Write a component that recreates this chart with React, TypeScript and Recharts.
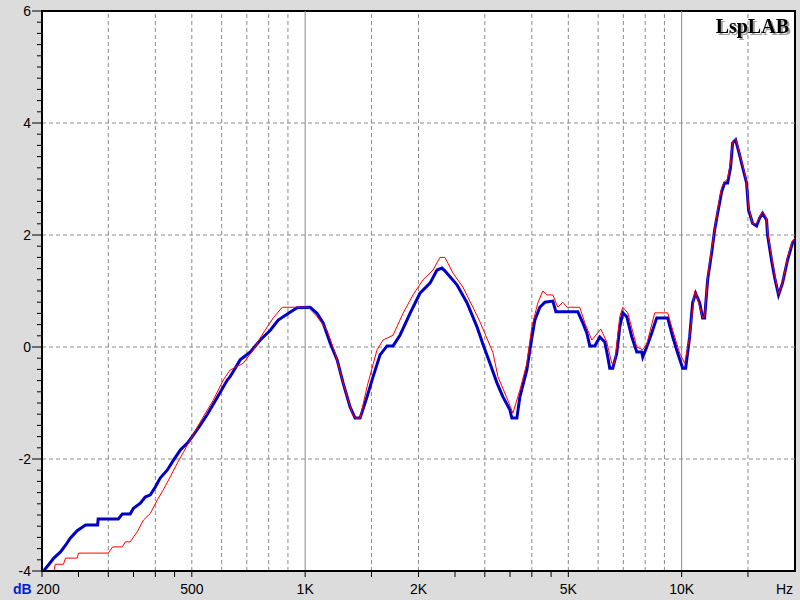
import { LineChart, Line, XAxis, YAxis, ReferenceLine, ReferenceArea, CartesianGrid } from "recharts";

// frequency response, blue (thick) trace
const blueFreq = [
  202, 211, 215, 224, 231, 238, 248, 261, 281, 282, 319, 327, 343, 350, 365, 376, 388, 400, 412, 430,
  447, 466, 489, 505, 527, 550, 584, 621, 632, 672, 715, 760, 808, 848, 901, 952, 1031, 1076, 1116, 1165,
  1216, 1261, 1316, 1357, 1399, 1460, 1515, 1581, 1650, 1712, 1786, 1899, 2018, 2146, 2240, 2308, 2350, 2530,
  2690, 2860, 2966, 3096, 3231, 3352, 3497, 3540, 3650, 3718, 3880, 3952, 4074, 4201, 4333, 4549, 4633, 5298,
  5463, 5598, 5702, 5879, 6061, 6249, 6364, 6442, 6561, 6724, 6849, 6975, 7148, 7370, 7599, 7834, 7882, 8077,
  8328, 8585, 9181, 9466, 9759, 10062, 10247, 10500, 10694, 10892, 11162, 11368, 11508, 11721, 12011, 12234,
  12460, 12768, 13002, 13243, 13488, 13654, 13907, 14251, 14514, 14872, 15054, 15426, 15810, 16102, 16399,
  16806, 16910, 17328, 17646, 18083, 18530, 19104, 19698, 20000,
];
const blueDb = [
  -4.0, -3.84, -3.77, -3.66, -3.54, -3.41, -3.28, -3.18, -3.18, -3.07, -3.07, -2.98, -2.98, -2.88, -2.79, -2.68, -2.64, -2.5, -2.34, -2.2,
  -2.02, -1.84, -1.7, -1.57, -1.39, -1.2, -0.9, -0.59, -0.53, -0.23, -0.09, 0.125, 0.3, 0.48, 0.6, 0.7, 0.71, 0.6, 0.43, 0.07,
  -0.23, -0.64, -1.07, -1.27, -1.27, -0.89, -0.53, -0.14, 0.02, 0.02, 0.21, 0.6, 0.96, 1.14, 1.375, 1.41, 1.36, 1.11,
  0.79, 0.36, 0.05, -0.29, -0.64, -0.89, -1.12, -1.27, -1.27, -0.89, -0.41, -0.05, 0.48, 0.71, 0.8, 0.82, 0.63, 0.63,
  0.43, 0.25, 0.02, 0.02, 0.18, 0.09, -0.18, -0.38, -0.38, -0.11, 0.36, 0.61, 0.54, 0.18, -0.09, -0.09, -0.18, 0,
  0.25, 0.52, 0.52, 0.18, -0.11, -0.38, -0.38, 0.18, 0.79, 0.96, 0.79, 0.52, 0.52, 1.2, 1.68, 2.09,
  2.39, 2.77, 2.93, 2.93, 3.21, 3.64, 3.7, 3.43, 3.21, 2.93, 2.45, 2.21, 2.16, 2.3, 2.39,
  2.27, 2.0, 1.55, 1.25, 0.93, 1.14, 1.55, 1.86, 1.9,
];

// red (thin) trace
const redFreq = [
  215, 217, 228, 231, 248, 250, 300, 308, 327, 333, 343, 358, 372, 388, 405, 420, 438, 458, 475, 495,
  517, 536, 570, 606, 632, 685, 728, 774, 823, 869, 1019, 1076, 1143, 1201, 1261, 1333, 1357, 1399, 1460, 1552,
  1610, 1712, 1819, 1934, 2056, 2186, 2281, 2351, 2470, 2624, 2790, 2912, 3153, 3251, 3434, 3562, 3718, 3880,
  4000, 4150, 4278, 4384, 4549, 4688, 4834, 4954, 5363, 5530, 5772, 6098, 6325, 6520, 6640, 6849, 6975, 7192,
  7599, 7882, 8077, 8482, 9181, 9466, 9880, 10185, 10500, 10827, 10959, 11368, 11508, 11721, 12011, 12234,
  12460, 12768, 13002, 13243, 13488, 13654, 13907, 14251, 14514, 14872, 15054, 15426, 15810, 16102, 16399,
  16806, 16910, 17328, 17646, 18083, 18530, 19104, 19698, 20000,
];
const redDb = [
  -4.0, -3.88, -3.88, -3.77, -3.77, -3.68, -3.68, -3.57, -3.57, -3.48, -3.48, -3.3, -3.09, -2.97, -2.73, -2.55, -2.32, -2.07, -1.88, -1.66,
  -1.43, -1.25, -0.95, -0.59, -0.41, -0.29, -0.05, 0.25, 0.52, 0.71, 0.71, 0.54, 0.3, -0.11, -0.64, -1.18, -1.27, -1.27, -0.71, -0.05,
  0.125, 0.21, 0.6, 0.93, 1.2, 1.375, 1.6, 1.6, 1.32, 1.07, 0.71, 0.45, -0.1, -0.53, -0.91, -1.18, -0.77, -0.29,
  0.36, 0.79, 1.0, 0.93, 0.93, 0.71, 0.8, 0.71, 0.71, 0.43, 0.125, 0.32, 0.09, -0.29, -0.29, 0.54, 0.71, 0.61,
  0.0, -0.05, 0.05, 0.61, 0.61, 0.3, -0.11, -0.29, 0.18, 1.0, 0.93, 0.52, 0.55, 1.25, 1.75, 2.1,
  2.45, 2.85, 2.95, 3.0, 3.3, 3.68, 3.72, 3.45, 3.25, 2.95, 2.5, 2.2, 2.2, 2.32, 2.42,
  2.3, 2.05, 1.6, 1.3, 0.95, 1.15, 1.6, 1.9, 1.95,
];

const dashedGridFreq = [300, 400, 500, 600, 700, 800, 900, 1500, 2000, 3000, 4000, 5000, 6000, 7000, 8000, 9000, 15000];
const solidGridFreq = [1000, 10000];
const gridDb = [-2, 0, 2, 4];

const xTicks = [200, 250, 300, 350, 400, 450, 500, 1000, 1500, 2000, 2500, 3000, 3500, 4000, 4500, 5000, 10000, 15000];
const xTickLabels: Record<number, string> = { 200: "200", 500: "500", 1000: "1K", 2000: "2K", 5000: "5K", 10000: "10K" };
const yMajorTicks = [-4, -2, 0, 2, 4, 6];
const yMinorStep = 0.2;

const yTicks: number[] = [];
for (let v = -4; v <= 6.0001; v += yMinorStep) yTicks.push(Math.round(v * 10) / 10);

const blueData = blueFreq.map((f, i) => ({ f, db: blueDb[i] }));
const redData = redFreq.map((f, i) => ({ f, db: redDb[i] }));

const labelFont = { fontFamily: "Liberation Sans, Arial, sans-serif", fontSize: 14 };
const gridGrey = "#8a8a8a";

function XTick(props: any) {
  const { x, y, payload } = props;
  const label = xTickLabels[payload.value];
  // the 200 label sits a bit right so it clears the "dB" unit
  const lx = payload.value === 200 ? x + 6 : x;
  return (
    <g>
      <line x1={x} x2={x} y1={y} y2={y + 6} stroke="#000" />
      {label && (
        <text x={lx} y={y + 23} textAnchor="middle" fill="#000" style={labelFont}>
          {label}
        </text>
      )}
    </g>
  );
}

function YTick(props: any) {
  const { x, y, payload } = props;
  const major = yMajorTicks.includes(payload.value);
  return (
    <g>
      <line x1={x - (major ? 10 : 5)} x2={x} y1={y} y2={y} stroke="#000" />
      {major && (
        <text x={x - 11} y={y + 5} textAnchor="end" fill="#000" style={labelFont}>
          {payload.value}
        </text>
      )}
    </g>
  );
}

export default function App() {
  return (
    <div style={{ position: "absolute", left: 0, top: 0, width: 800, height: 600, background: "#dcdcdc" }}>
      <LineChart width={800} height={600} margin={{ top: 11, right: 5, bottom: 0, left: 0 }}>
        <CartesianGrid horizontal={false} vertical={false} fill="#fff" fillOpacity={1} />
        <XAxis
          dataKey="f"
          type="number"
          scale="log"
          domain={[200, 20000]}
          allowDataOverflow
          ticks={xTicks}
          interval={0}
          tick={<XTick />}
          tickLine={false}
          tickSize={0}
          tickMargin={0}
          height={29}
          axisLine={{ stroke: "#000", strokeWidth: 2 }}
        />
        <YAxis
          type="number"
          domain={[-4, 6]}
          allowDataOverflow
          ticks={yTicks}
          interval={0}
          tick={<YTick />}
          tickLine={false}
          tickSize={0}
          tickMargin={0}
          width={42}
          axisLine={{ stroke: "#000", strokeWidth: 2 }}
        />
        {gridDb.map((v) => (
          <ReferenceLine key={"h" + v} y={v} stroke={gridGrey} strokeDasharray="4 3" />
        ))}
        {dashedGridFreq.map((f) => (
          <ReferenceLine key={"v" + f} x={f} stroke={gridGrey} strokeDasharray="4 3" />
        ))}
        {solidGridFreq.map((f) => (
          <ReferenceLine key={"s" + f} x={f} stroke={gridGrey} />
        ))}
        <Line
          data={blueData}
          dataKey="db"
          type="linear"
          stroke="#0000c4"
          strokeWidth={3}
          dot={false}
          activeDot={false}
          isAnimationActive={false}
        />
        <Line
          data={redData}
          dataKey="db"
          type="linear"
          stroke="#ff0000"
          strokeWidth={1}
          dot={false}
          activeDot={false}
          isAnimationActive={false}
        />
        <ReferenceArea x1={200} x2={20000} y1={-4} y2={6} fill="none" stroke="#000" strokeWidth={2} />
      </LineChart>
      <svg width={800} height={600} style={{ position: "absolute", left: 0, top: 0, pointerEvents: "none" }}>
        <text x={13} y={594} fill="#0022d0" style={{ ...labelFont, fontWeight: "bold" }}>
          dB
        </text>
        <text x={776} y={594} fill="#000" style={labelFont}>
          Hz
        </text>
        <text
          x={789}
          y={33}
          textAnchor="end"
          fill="#000"
          style={{
            fontFamily: "Liberation Serif, Times New Roman, serif",
            fontSize: 20,
            fontWeight: "bold",
            filter: "drop-shadow(2px 2px 0 #a0a0a0)",
          }}
        >
          LspLAB
        </text>
      </svg>
    </div>
  );
}
